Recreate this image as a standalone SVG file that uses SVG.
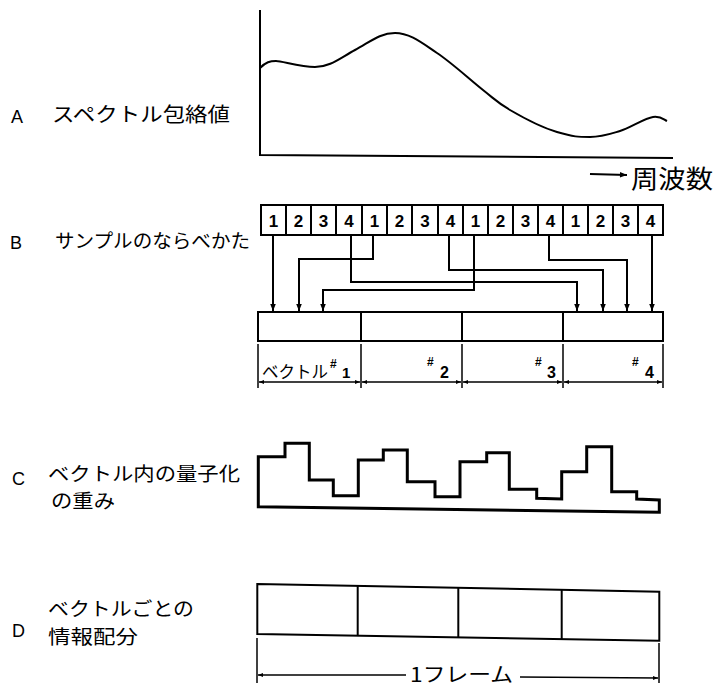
<svg xmlns="http://www.w3.org/2000/svg" width="716" height="691" viewBox="0 0 716 691">
<style>
.ln{fill:none;stroke:#000;stroke-width:2;stroke-linejoin:miter}
.thk{fill:none;stroke:#000;stroke-width:3}
.jp{font-family:"Noto Sans CJK JP","Noto Sans",sans-serif;fill:#000}
.lat{font-family:"Liberation Sans",Arial,sans-serif;fill:#000}
.box{fill:#fff;stroke:#000;stroke-width:2}
.num{font-family:"Liberation Sans",Arial,sans-serif;font-weight:bold;font-size:17px;text-anchor:middle;fill:#000}
.dim{fill:none;stroke:#000;stroke-width:1.5}
</style>
<defs>
<marker id="ah" viewBox="0 0 10 10" refX="10" refY="5" markerWidth="9" markerHeight="7" markerUnits="userSpaceOnUse" orient="auto">
<path d="M0,1 L10,5 L0,9 Z" fill="#000"/>
</marker>
<marker id="dh" viewBox="0 0 10 10" refX="10" refY="5" markerWidth="11" markerHeight="5" markerUnits="userSpaceOnUse" orient="auto-start-reverse">
<path d="M0,1 L10,5 L0,9 Z" fill="#000"/>
</marker>
</defs>

<!-- Section A -->
<g id="labelA">
<text class="lat" x="11" y="123" font-size="18">A</text>
<text class="jp" x="52" y="122" font-size="20" textLength="178" lengthAdjust="spacingAndGlyphs">スペクトル包絡値</text>
</g>
<g id="graphA">
<path class="ln" d="M260,10 L260,155 L673,158"/>
<path class="ln" d="M260,68 C266,62 270,61 276,61 S300,67 315,67 S340,58 355,50 S380,33 395,33 S422,43 437,53 S468,78 483,90 S498,103 510,110 S540,127 557,132 S578,137 590,137 S610,134 620,131 S645,118 653,117 S663,119 667,121"/>
</g>
<g id="freqAxis">
<line class="ln" x1="590" y1="174" x2="627" y2="175" marker-end="url(#ah)"/>
<text class="jp" x="631" y="188" font-size="25" textLength="82" lengthAdjust="spacingAndGlyphs">周波数</text>
</g>

<!-- Section B -->
<g id="labelB">
<text class="lat" x="10" y="249" font-size="18">B</text>
<text class="jp" x="55" y="248" font-size="19" textLength="195" lengthAdjust="spacingAndGlyphs">サンプルのならべかた</text>
</g>
<g id="samples">
<rect class="box" x="261" y="205" width="25" height="30"/>
<rect class="box" x="286" y="205" width="25" height="30"/>
<rect class="box" x="311" y="205" width="25" height="30"/>
<rect class="box" x="336" y="205" width="26" height="30"/>
<rect class="box" x="362" y="205" width="25" height="30"/>
<rect class="box" x="387" y="205" width="25" height="30"/>
<rect class="box" x="412" y="205" width="26" height="30"/>
<rect class="box" x="438" y="205" width="25" height="30"/>
<rect class="box" x="463" y="205" width="25" height="30"/>
<rect class="box" x="488" y="205" width="25" height="30"/>
<rect class="box" x="513" y="205" width="25" height="30"/>
<rect class="box" x="538" y="205" width="25" height="30"/>
<rect class="box" x="563" y="205" width="25" height="30"/>
<rect class="box" x="588" y="205" width="25" height="30"/>
<rect class="box" x="613" y="205" width="25" height="30"/>
<rect class="box" x="638" y="205" width="25" height="30"/>
<text class="num" x="273.5" y="227">1</text>
<text class="num" x="298.5" y="227">2</text>
<text class="num" x="323.5" y="227">3</text>
<text class="num" x="349" y="227">4</text>
<text class="num" x="374.5" y="227">1</text>
<text class="num" x="399.5" y="227">2</text>
<text class="num" x="425" y="227">3</text>
<text class="num" x="450.5" y="227">4</text>
<text class="num" x="475.5" y="227">1</text>
<text class="num" x="500.5" y="227">2</text>
<text class="num" x="525.5" y="227">3</text>
<text class="num" x="550.5" y="227">4</text>
<text class="num" x="575.5" y="227">1</text>
<text class="num" x="600.5" y="227">2</text>
<text class="num" x="625.5" y="227">3</text>
<text class="num" x="650.5" y="227">4</text>
</g>
<g id="vectors">
<rect class="box" x="258" y="312" width="405" height="29"/>
<line class="ln" x1="361" y1="312" x2="361" y2="341"/>
<line class="ln" x1="462" y1="312" x2="462" y2="341"/>
<line class="ln" x1="563" y1="312" x2="563" y2="341"/>
</g>
<g id="connectors">
<path class="ln" d="M273,235 L273,311" marker-end="url(#ah)"/>
<path class="ln" d="M373,235 L373,259 L299,259 L299,311" marker-end="url(#ah)"/>
<path class="ln" d="M474,235 L474,290 L323,290 L323,311" marker-end="url(#ah)"/>
<path class="ln" d="M351,235 L351,282 L577,282 L577,311" marker-end="url(#ah)"/>
<path class="ln" d="M449,235 L449,270 L603,270 L603,311" marker-end="url(#ah)"/>
<path class="ln" d="M549,235 L549,260 L627,260 L627,311" marker-end="url(#ah)"/>
<path class="ln" d="M652,235 L652,311" marker-end="url(#ah)"/>
</g>
<g id="vectorLabels">
<line class="dim" x1="258" y1="344" x2="258" y2="388"/>
<line class="dim" x1="361" y1="344" x2="361" y2="388"/>
<line class="dim" x1="462" y1="344" x2="462" y2="388"/>
<line class="dim" x1="563" y1="344" x2="563" y2="388"/>
<line class="dim" x1="663" y1="344" x2="663" y2="388"/>
<line class="dim" x1="259" y1="382" x2="360" y2="382" marker-start="url(#dh)" marker-end="url(#dh)"/>
<line class="dim" x1="362" y1="382" x2="461" y2="382" marker-start="url(#dh)" marker-end="url(#dh)"/>
<line class="dim" x1="463" y1="382" x2="562" y2="382" marker-start="url(#dh)" marker-end="url(#dh)"/>
<line class="dim" x1="564" y1="382" x2="662" y2="382" marker-start="url(#dh)" marker-end="url(#dh)"/>
<text class="jp" x="262" y="378" font-size="17" textLength="66" lengthAdjust="spacingAndGlyphs">ベクトル</text>
<text class="lat" x="330" y="368" font-size="12" font-weight="bold">#</text>
<text class="lat" x="342" y="378" font-size="15" font-weight="bold">1</text>
<text class="lat" x="427" y="366" font-size="12" font-weight="bold">#</text>
<text class="lat" x="440" y="378" font-size="16" font-weight="bold">2</text>
<text class="lat" x="535" y="366" font-size="12" font-weight="bold">#</text>
<text class="lat" x="547" y="378" font-size="16" font-weight="bold">3</text>
<text class="lat" x="632" y="366" font-size="12" font-weight="bold">#</text>
<text class="lat" x="645" y="378" font-size="16" font-weight="bold">4</text>
</g>

<!-- Section C -->
<g id="labelC">
<text class="lat" x="12" y="485" font-size="18">C</text>
<text class="jp" x="48" y="481" font-size="19" textLength="192" lengthAdjust="spacingAndGlyphs">ベクトル内の量子化</text>
<text class="jp" x="51" y="508" font-size="19" textLength="64" lengthAdjust="spacingAndGlyphs">の重み</text>
</g>
<g id="graphC">
<path class="thk" d="M258.3,506.7 L258.3,456.7 L285,456.7 L285,443.3 L309.3,443.3 L309.3,480 L333.3,480 L333.3,495.7 L358.3,495.7 L358.3,460 L383.3,460 L383.3,450 L407.3,450 L407.3,481.7 L435,481.7 L435,496.7 L460,496.7 L460,461.7 L486.7,461.7 L486.7,452.7 L509.3,452.7 L509.3,489.3 L536.7,489.3 L536.7,498.3 L561.7,499 L561.7,471.7 L586.7,471.7 L586.7,446.7 L611.7,446.7 L611.7,491.7 L636.7,491.7 L636.7,499 L659.3,500 L659.3,512.3 Z"/>
</g>

<!-- Section D -->
<g id="labelD">
<text class="lat" x="12" y="637" font-size="18">D</text>
<text class="jp" x="48" y="616" font-size="19" textLength="146" lengthAdjust="spacingAndGlyphs">ベクトルごとの</text>
<text class="jp" x="48" y="644" font-size="19" textLength="90" lengthAdjust="spacingAndGlyphs">情報配分</text>
</g>
<g id="frameD">
<path class="ln" d="M257.3,584 L659.3,591.7 L659.3,640.7 L257.3,634 Z"/>
<line class="ln" x1="357.7" y1="586" x2="357.7" y2="636"/>
<line class="ln" x1="458.3" y1="588" x2="458.3" y2="637.5"/>
<line class="ln" x1="561.7" y1="590" x2="561.7" y2="639.5"/>
</g>
<g id="frameLabel">
<line class="dim" x1="257" y1="638" x2="257" y2="683"/>
<line class="dim" x1="659" y1="643" x2="659" y2="683"/>
<line class="dim" x1="258" y1="675" x2="406" y2="675" marker-start="url(#dh)"/>
<line class="dim" x1="520" y1="677" x2="658" y2="678" marker-end="url(#dh)"/>
<text class="jp" x="410" y="682" font-size="20" textLength="103" lengthAdjust="spacingAndGlyphs">1フレーム</text>
</g>
</svg>
